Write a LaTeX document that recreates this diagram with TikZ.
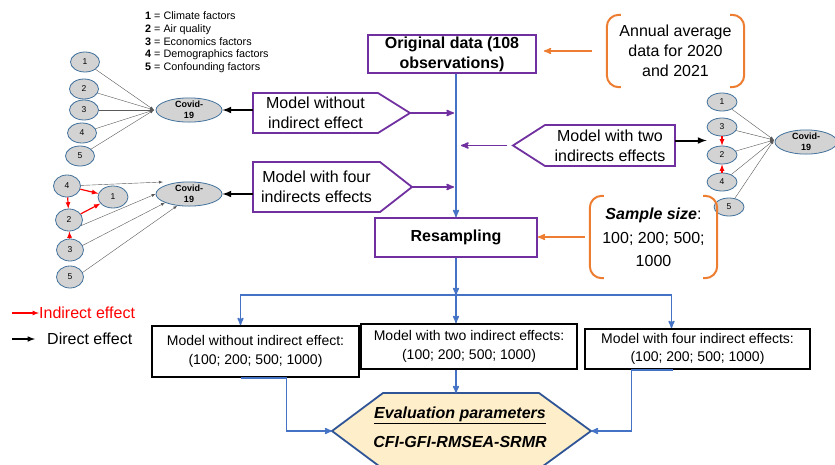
\documentclass[tikz,border=0pt]{standalone}
\usepackage{fontspec}
\setmainfont{Liberation Sans}
\usetikzlibrary{arrows,shapes}

\definecolor{purp}{HTML}{7030A0}
\definecolor{flowblue}{HTML}{4472C4}
\definecolor{orng}{HTML}{ED7D31}
\definecolor{ovalgray}{HTML}{D3D3D3}
\definecolor{ovalblue}{HTML}{41719C}
\definecolor{hexfill}{HTML}{FFEECA}
\definecolor{hexblue}{HTML}{2F5597}
\newcommand{\pxfont}[2]{\fontsize{#1}{#2}\selectfont}

\begin{document}
\begin{tikzpicture}[x=1pt,y=-1pt,>=stealth',auto]
  \tikzset{var/.style={ellipse,draw=ovalblue,fill=ovalgray,line width=0.8pt,inner sep=0pt,minimum width=29pt,minimum height=20pt,font=\pxfont{8.5}{9}},
    covid/.style={var,minimum width=66pt,minimum height=22pt,align=center,font=\pxfont{9}{10.5}\bfseries},
    path/.style={->,>=latex,draw=black!65,line width=0.4pt},
    ind/.style={->,>=latex,draw=red,line width=1.2pt},
    eff/.style={->,>=latex,draw=black,line width=2pt},
    ptext/.style={inner sep=0pt,outer sep=0pt,align=center,font=\pxfont{16}{20}},
    pent/.style={draw=purp,line width=1.8pt,line join=miter},
    parrow/.style={->,draw=purp,line width=1.6pt},
    pbox/.style={draw=purp,line width=1.8pt,align=center,inner sep=0pt,font=\pxfont{16}{20}\bfseries},
    bbox/.style={draw=black,line width=2pt,align=center,inner sep=0pt,font=\pxfont{14}{18.5}},
    flow/.style={->,draw=flowblue,line width=1.5pt},
    obr/.style={draw=orng,line width=2pt,rounded corners=12pt},
    oarrow/.style={->,draw=orng,line width=1.5pt}}
  \useasboundingbox (0,0) rectangle (835,464);
  \clip (0,0) rectangle (835,464);

  % key of the variables
  \node[anchor=west,align=left,inner sep=0pt,font=\pxfont{10.8}{12.7}] (key) at (145,42.5)
    {\textbf{1} = Climate factors\\ \textbf{2} = Air quality\\ \textbf{3} = Economics factors\\
     \textbf{4} = Demographics factors\\ \textbf{5} = Confounding factors};

  % model without indirect effect (top left)
  \node[var] (a1) at (85,62)  {1};
  \node[var] (a2) at (84,89)  {2};
  \node[var] (a3) at (84,110) {3};
  \node[var] (a4) at (82,133) {4};
  \node[var] (a5) at (80,156) {5};
  \node[covid] (ca) at (189,110) {Covid-\\19};
  \coordinate (ja) at (154,110);
  \foreach \i in {1,...,5} \draw[path] (a\i) -- (ja);

  % model with four indirect effects (bottom left)
  \tikzset{var/.append style={minimum width=27pt,minimum height=22pt}}
  \node[var] (b4) at (67,186) {4};
  \node[var,minimum width=30pt] (b1) at (113,197) {1};
  \node[var] (b2) at (69,220) {2};
  \node[var] (b3) at (70,250) {3};
  \node[var] (b5) at (70,277) {5};
  \node[covid] (cb) at (189,194) {Covid-\\19};
  \coordinate (t4) at (163,182);
  \draw[path] (b4) -- (t4);
  \draw[path] (b2.-25) -- (cb.west);
  \draw[path] (b3.20) -- (cb.200);
  \draw[path] (b5.20) -- (cb.225);
  \draw[ind] (b4) -- (b1);
  \draw[ind] (b4) -- (b2);
  \draw[ind] (b2) -- (b1);
  \draw[ind] (b3) -- (b2);

  % model with two indirect effects (right)
  \tikzset{var/.append style={minimum width=30pt,minimum height=18pt}}
  \node[var] (r1) at (722,102) {1};
  \node[var] (r3) at (722,127) {3};
  \node[var] (r2) at (722,155) {2};
  \node[var] (r4) at (722,182) {4};
  \node[var] (r5) at (729,207) {5};
  \node[covid,minimum width=62pt,minimum height=24pt] (cc) at (806,142) {Covid-\\19};
  \coordinate (jr) at (774,140);
  \foreach \i in {1,...,5} \draw[path] (r\i) -- (jr);
  \draw[ind] (r3) -- (r2);
  \draw[ind] (r4) -- (r2);

  % purple boxes
  \node[pbox,minimum width=168pt,minimum height=38pt] (og) at (452,54) {Original data (108\\observations)};
  \node[pbox,minimum width=162pt,minimum height=39pt] (rs) at (456,237.5) {Resampling};

  \node[ptext,minimum width=125pt,minimum height=40pt] (nw) at (315.5,113) {Model without\\indirect effect};
  \draw[pent] (nw.north west) -- (nw.north east) -- ++(32,20) coordinate (nwtip) -- (nw.south east) -- (nw.south west) -- cycle;
  \node[ptext,minimum width=127pt,minimum height=50pt] (n4) at (316.5,187) {Model with four\\indirects effects};
  \draw[pent] (n4.north west) -- (n4.north east) -- ++(32,25) coordinate (n4tip) -- (n4.south east) -- (n4.south west) -- cycle;
  \node[ptext,minimum width=130pt,minimum height=41pt] (n2) at (610,145.5) {Model with two\\indirects effects};
  \draw[pent] (n2.north east) -- (n2.north west) -- ++(-32,20.5) coordinate (n2tip) -- (n2.south west) -- (n2.south east) -- cycle;

  % orange notes
  \node[align=center,inner sep=0pt,minimum width=137pt,minimum height=72pt,font=\pxfont{16}{20}] (ann) at (675.5,51)
    {Annual average\\data for 2020\\and 2021};
  \node[align=center,inner sep=0pt,minimum width=127pt,minimum height=82pt,font=\pxfont{16}{22.5}] (ss) at (653.5,237)
    {\textbf{\textit{Sample size}}:\\[2pt]100; 200; 500;\\1000};
  \foreach \n in {ann,ss} {
    \draw[obr] ([xshift=14pt]\n.north west) -- (\n.north west) -- (\n.south west) -- ([xshift=14pt]\n.south west);
    \draw[obr] ([xshift=-14pt]\n.north east) -- (\n.north east) -- (\n.south east) -- ([xshift=-14pt]\n.south east);
  }
  \draw[oarrow] ([xshift=-15pt]ann.west) -- ([xshift=7pt]og.east |- ann.west);
  \draw[oarrow] ([xshift=-5pt]ss.west) -- (rs.east |- ss.west);

  % black boxes
  \node[bbox,minimum width=207pt,minimum height=51pt] (m0) at (255.5,351.5) {Model without indirect effect:\\(100; 200; 500; 1000)};
  \node[bbox,minimum width=216pt,minimum height=45pt] (m2) at (469,346.5) {Model with two indirect effects:\\(100; 200; 500; 1000)};
  \node[bbox,minimum width=225pt,minimum height=40pt] (m4) at (697.5,349) {Model with four indirect effects:\\(100; 200; 500; 1000)};

  % evaluation hexagon
  \draw[fill=hexfill,draw=hexblue,line width=1.8pt] (332,431) coordinate (hw) -- (383,393) -- (456,393) coordinate (hn)
    -- (539,393) -- (591,431) coordinate (he) -- (539,469) -- (383,469) -- cycle;
  \node[align=center,inner sep=0pt,font=\pxfont{16}{29}\bfseries\itshape] (ev) at (460,427.5)
    {\underline{Evaluation parameters}\\CFI-GFI-RMSEA-SRMR};

  % connectors
  \coordinate (split) at (456,295);
  \draw[flow] (og.south -| rs.north) -- (rs.north);
  \draw[flow] (rs.south) -- (split);
  \draw[flow] (split) -| ([xshift=-15pt]m0.north);
  \draw[flow] (split) -- (split |- m2.north);
  \draw[flow] (split) -| ([xshift=-26pt]m4.north);
  \draw[flow] ([xshift=-15pt]m0.south) -- ++(46,0) |- (hw);
  \draw[flow] (m2.south -| split) -- (hn);
  \draw[flow] ([xshift=-25pt]m4.south) -- ++(-41,0) |- (he);

  \draw[parrow,shorten >=2pt] (nwtip) -- (nwtip -| split);
  \draw[parrow,shorten >=2pt] (n4tip) -- (n4tip -| split);
  \draw[parrow,shorten <=6pt,shorten >=5pt] (n2tip) -- (n2tip -| split);

  \draw[eff] (nw.west |- ca.east) -- (ca.east);
  \draw[eff] (n4.west |- cb.east) -- (cb.east);
  \draw[eff] ([yshift=5pt]n2.east) -- ([yshift=5pt]n2.east -| r2.west);

  % legend
  \node[anchor=west,inner sep=0pt,text=red,font=\pxfont{16}{20}] (lind) at (39,313) {Indirect effect};
  \node[anchor=west,inner sep=0pt,font=\pxfont{16}{20}] (ldir) at (47,339) {Direct effect};
  \draw[ind] ([xshift=-27pt]lind.west) -- (lind.west);
  \draw[eff,line width=1.5pt] ([xshift=-35pt]ldir.west) -- ([xshift=-12pt]ldir.west);
\end{tikzpicture}
\end{document}
